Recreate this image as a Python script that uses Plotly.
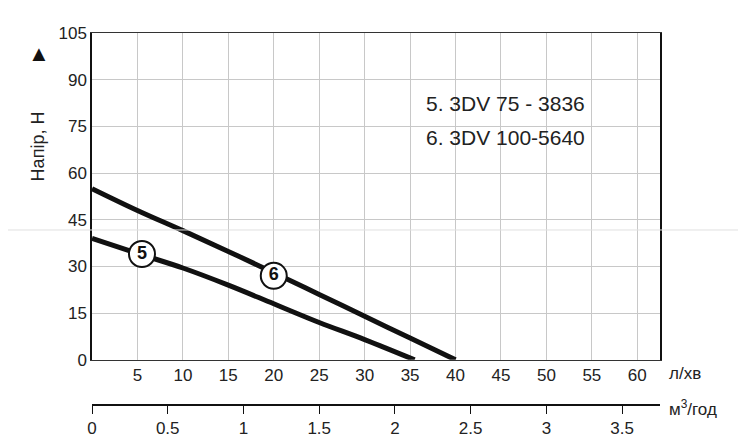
import plotly.graph_objects as go

q6 = [0, 5, 10, 15, 20, 25, 30, 35, 40]
h6 = [55, 48, 41.5, 34.8, 28, 21, 14, 7, 0]
q5 = [0, 5, 10, 15, 20, 25, 30, 35.5]
h5 = [39, 34.2, 29.5, 24, 18, 12, 6.5, 0]
xticks = [5, 10, 15, 20, 25, 30, 35, 40, 45, 50, 55, 60]
m3ticks = [0, 0.5, 1, 1.5, 2, 2.5, 3, 3.5]
yticks = [0, 15, 30, 45, 60, 75, 90, 105]
legend_lines = ["5. 3DV 75 - 3836", "6. 3DV 100-5640"]

F = "Liberation Sans, Arial"
fig = go.Figure()
fig.add_trace(go.Scatter(x=q6, y=h6, mode="lines", line=dict(color="#111", width=5, shape="spline")))
fig.add_trace(go.Scatter(x=q5, y=h5, mode="lines", line=dict(color="#111", width=5, shape="spline")))
fig.add_trace(go.Scatter(x=[5.5, 20], y=[34, 27], mode="markers+text", text=["<b>5</b>", "<b>6</b>"],
                         marker=dict(size=26, color="white", line=dict(color="#111", width=2)),
                         textfont=dict(family=F, size=18, color="#111"), textposition="middle center"))
fig.add_trace(go.Scatter(x=[0], y=[0], xaxis="x2", mode="markers", marker=dict(opacity=0), hoverinfo="skip"))

fig.update_layout(
    width=746, height=437, showlegend=False, plot_bgcolor="white", paper_bgcolor="white",
    margin=dict(l=84, r=94, t=25, b=10, autoexpand=False),
    font=dict(family=F, size=17, color="#222"),
    xaxis=dict(range=[0, 62.5], tickvals=xticks, showgrid=True, gridcolor="#c8c8c8", gridwidth=1,
               showline=True, linecolor="#333", mirror=True, zeroline=False, ticks="", ticklen=0),
    xaxis2=dict(range=[0, 3.75], tickvals=m3ticks, overlaying="x", anchor="free", position=0.075,
                side="bottom", showline=True, linecolor="#111", linewidth=1.5, ticks="outside",
                ticklen=8, tickcolor="#111", showgrid=False, zeroline=False),
    yaxis=dict(domain=[0.187, 1], range=[0, 105], tickvals=yticks, showgrid=True, gridcolor="#c8c8c8",
               showline=True, linecolor="#111", linewidth=1.5, mirror=True, zeroline=False, ticks=""),
    annotations=[
        dict(x=1.012, y=0.124, xref="paper", yref="paper", text="л/хв", showarrow=False, xanchor="left",
             font=dict(size=17)),
        dict(x=1.012, y=0.035, xref="paper", yref="paper", text="м<sup>3</sup>/год", showarrow=False,
             xanchor="left", font=dict(size=17)),
        dict(x=0, y=0.81, xref="paper", yref="paper", xshift=-66, text="Напір, Н", textangle=-90,
             showarrow=False, font=dict(size=18)),
        dict(x=0, y=0.985, xref="paper", yref="paper", xshift=-66, text="▲", showarrow=False,
             font=dict(size=22, color="#111")),
        dict(x=36.5, y=82.5, text=legend_lines[0], showarrow=False, xanchor="left", font=dict(size=21)),
        dict(x=36.5, y=71.5, text=legend_lines[1], showarrow=False, xanchor="left", font=dict(size=21)),
    ],
    shapes=[dict(type="line", xref="paper", yref="paper", x0=-0.2, x1=1.3, y0=0.51, y1=0.51,
                 line=dict(color="#e0e0e0", width=1))],
)
fig.write_html("out.html")
